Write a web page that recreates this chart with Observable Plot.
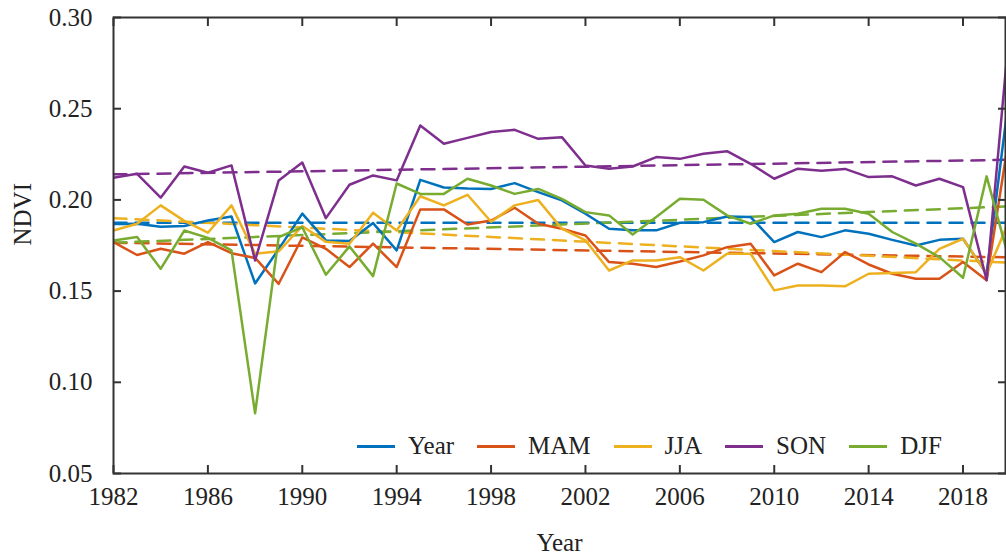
<!DOCTYPE html>
<html><head><meta charset="utf-8">
<script src="https://cdn.jsdelivr.net/npm/d3@7"></script>
<script src="https://cdn.jsdelivr.net/npm/@observablehq/plot@0.6"></script>
<style>
body{margin:0;background:#fff;}
#wrap{position:relative;width:1006px;height:558px;font-family:"Liberation Serif","Times New Roman",serif;}
#legend{position:absolute;left:357px;top:429px;height:34px;display:flex;align-items:center;font-size:25px;color:#222;}
#legend .sw{width:38px;height:3px;margin-right:13px;}
#legend .lb{margin-right:23px;white-space:nowrap;}
</style></head>
<body><div id="wrap"><div id="chart"></div><div id="legend"></div></div>
<script>
const years = [1982,1983,1984,1985,1986,1987,1988,1989,1990,1991,1992,1993,1994,1995,1996,1997,1998,1999,2000,2001,2002,2003,2004,2005,2006,2007,2008,2009,2010,2011,2012,2013,2014,2015,2016,2017,2018,2019,2020];
const yearNDVI = [0.1868,0.1869,0.1853,0.1857,0.1887,0.1909,0.1542,0.1730,0.1925,0.1778,0.1775,0.1873,0.1723,0.2110,0.2068,0.2062,0.2060,0.2092,0.2043,0.1997,0.1924,0.1842,0.1833,0.1833,0.1875,0.1878,0.1909,0.1906,0.1769,0.1824,0.1796,0.1833,0.1814,0.1781,0.1750,0.1781,0.1787,0.1595,0.2620];
const mamNDVI = [0.1769,0.1698,0.1732,0.1705,0.1769,0.1708,0.1682,0.1540,0.1794,0.1732,0.1632,0.1760,0.1632,0.1948,0.1948,0.1865,0.1887,0.1957,0.1869,0.1842,0.1805,0.1659,0.1650,0.1632,0.1662,0.1696,0.1741,0.1760,0.1586,0.1650,0.1604,0.1714,0.1646,0.1595,0.1568,0.1568,0.1659,0.1559,0.2390];
const jjaNDVI = [0.1832,0.1869,0.1970,0.1885,0.1820,0.1970,0.1705,0.1718,0.1857,0.1770,0.1760,0.1930,0.1832,0.2020,0.1970,0.2028,0.1880,0.1970,0.1999,0.1842,0.1778,0.1613,0.1668,0.1668,0.1686,0.1613,0.1705,0.1705,0.1504,0.1531,0.1531,0.1526,0.1595,0.1599,0.1604,0.1732,0.1787,0.1595,0.1900];
const sonNDVI = [0.2121,0.2143,0.2012,0.2183,0.2149,0.2189,0.1668,0.2107,0.2205,0.1900,0.2083,0.2134,0.2107,0.2408,0.2308,0.2340,0.2372,0.2384,0.2335,0.2344,0.2189,0.2171,0.2183,0.2235,0.2225,0.2253,0.2267,0.2198,0.2116,0.2171,0.2160,0.2170,0.2125,0.2129,0.2079,0.2116,0.2070,0.1560,0.2980];
const djfNDVI = [0.1778,0.1796,0.1622,0.1832,0.1792,0.1723,0.0830,0.1796,0.1850,0.1590,0.1745,0.1582,0.2090,0.2033,0.2033,0.2116,0.2079,0.2033,0.2060,0.2006,0.1933,0.1915,0.1810,0.1906,0.2006,0.2001,0.1915,0.1869,0.1915,0.1924,0.1951,0.1951,0.1924,0.1824,0.1760,0.1686,0.1573,0.2129,0.1650];
const seriesNames = ["Year","MAM","JJA","SON","DJF"];
const seriesColors = ["#0072BD","#D95319","#EDB120","#7E2F8E","#77AC30"];
const trendYears = [1982, 2020];
const trendStart = [0.1875, 0.1765, 0.1900, 0.2140, 0.1765];
const trendEnd = [0.1875, 0.1685, 0.1655, 0.2220, 0.1965];
const xTicks = [1982,1986,1990,1994,1998,2002,2006,2010,2014,2018];
const yTicks = [0.05,0.10,0.15,0.20,0.25,0.30];

const seriesValues = [yearNDVI, mamNDVI, jjaNDVI, sonNDVI, djfNDVI];
const rows = [];
seriesNames.forEach((s, i) => years.forEach((yr, j) => rows.push({series: s, year: yr, value: seriesValues[i][j]})));
const trendRows = [];
seriesNames.forEach((s, i) => {
  trendRows.push({series: s, year: trendYears[0], value: trendStart[i]});
  trendRows.push({series: s, year: trendYears[1], value: trendEnd[i]});
});

const chart = Plot.plot({
  width: 1006, height: 558,
  marginLeft: 113, marginRight: 1, marginTop: 17, marginBottom: 85,
  style: {fontFamily: "'Liberation Serif','Times New Roman',serif", fontSize: "25px", color: "#222", background: "#fff"},
  x: {domain: [1982, 2019.8]},
  y: {domain: [0.05, 0.30]},
  color: {domain: seriesNames, range: seriesColors},
  marks: [
    Plot.lineY(trendRows, {x: "year", y: "value", z: "series", stroke: "series", strokeWidth: 2.5, strokeDasharray: "13,9", clip: true}),
    Plot.lineY(rows, {x: "year", y: "value", z: "series", stroke: "series", strokeWidth: 2.5, clip: true}),
    Plot.frame({stroke: "#333", strokeWidth: 2}),
    Plot.axisX({ticks: xTicks, tickSize: -8, tickPadding: 22, tickFormat: d => String(d), label: null, stroke: "#333", strokeWidth: 2}),
    Plot.axisX({anchor: "top", ticks: xTicks, tickSize: -8, tickFormat: () => "", label: null, stroke: "#333", strokeWidth: 2}),
    Plot.axisY({ticks: yTicks, tickSize: -8, tickPadding: 29, tickFormat: d3.format(".2f"), label: null, stroke: "#333", strokeWidth: 2}),
    Plot.axisY({anchor: "right", ticks: yTicks, tickSize: -8, tickFormat: () => "", label: null, stroke: "#333", strokeWidth: 2}),
    Plot.text(["Year"], {text: d => d, frameAnchor: "bottom", dy: 77, fontSize: 25}),
    Plot.text(["NDVI"], {text: d => d, frameAnchor: "left", dx: -91, rotate: -90, fontSize: 25})
  ]
});
document.getElementById("chart").appendChild(chart);

const legend = document.getElementById("legend");
seriesNames.forEach((s, i) => {
  const sw = document.createElement("span"); sw.className = "sw"; sw.style.background = seriesColors[i];
  const lb = document.createElement("span"); lb.className = "lb"; lb.textContent = s;
  legend.appendChild(sw); legend.appendChild(lb);
});
</script>
</body></html>
